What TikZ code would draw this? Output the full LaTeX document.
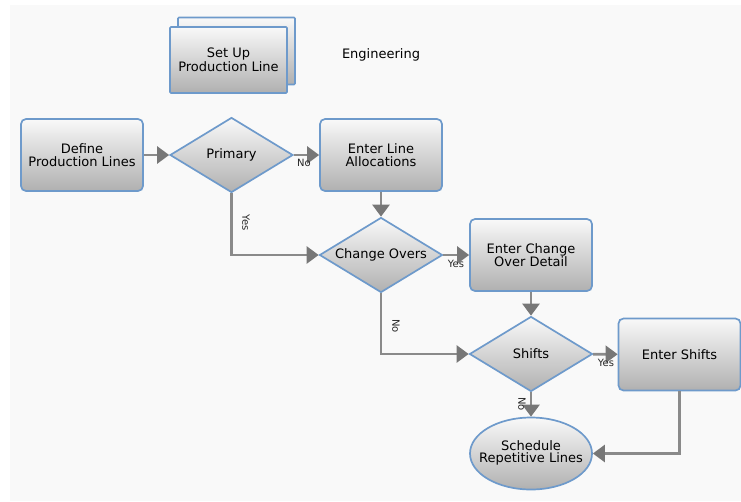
\documentclass[tikz,border=0pt]{standalone}
\usepackage{fontspec}
\setmainfont{DejaVu Sans}
\usetikzlibrary{shapes.geometric,arrows.meta}
\definecolor{bordb}{HTML}{6E9ACB}
\definecolor{linegr}{HTML}{8A8A8A}
\definecolor{tipgr}{HTML}{777777}
\definecolor{panel}{HTML}{F9F9F9}
\tikzset{
  shadefill/.style={top color=white!95!gray, bottom color=gray!62, draw=bordb, line width=1.7pt},
  nfont/.style={font=\fontsize{13}{13.5}\selectfont},
  procbox/.style={shadefill, rectangle, rounded corners=5pt, minimum width=122pt, minimum height=72pt, inner sep=0pt, align=center, nfont},
  decis/.style={shadefill, diamond, minimum width=123pt, minimum height=75pt, inner sep=0pt, align=center, nfont},
  term/.style={shadefill, ellipse, minimum width=122pt, minimum height=72pt, inner sep=0pt, align=center, nfont},
  conn/.style={draw=linegr, line width=2.6pt, -{Triangle[length=12pt,width=17pt,fill=tipgr,color=tipgr]}},
  lbl/.style={font=\fontsize{10}{10}\selectfont, inner sep=0pt, text=black!85},
}
\begin{document}
\begin{tikzpicture}[x=1pt,y=-1pt]
\useasboundingbox (0,0) rectangle (741,501);
\fill[white] (0,0) rectangle (741,501);
\fill[panel] (10,5) rectangle (741,501);

% stacked setup box
\node[procbox, minimum width=117pt, minimum height=67pt, rounded corners=1pt] (setupback) at (236.5,51) {};
\node[procbox, minimum width=117pt, minimum height=66pt, rounded corners=1pt] (setup) at (228.5,60) {Set Up\\Production Line};
\node[nfont] (eng) at (381,55) {Engineering};

\node[procbox] (define) at (82,155) {Define\\Production Lines};
\node[decis] (primary) at (231.5,155) {\makebox[0pt]{Primary}};
\node[procbox] (alloc) at (381,155) {Enter Line\\Allocations};
\node[decis] (change) at (381,255) {\makebox[0pt]{Change Overs}};
\node[procbox] (detail) at (531,255) {Enter Change\\Over Detail};
\node[decis] (shifts) at (531,354) {\makebox[0pt]{Shifts}};
\node[procbox] (entershifts) at (679.5,354.5) {Enter Shifts};
\node[term] (sched) at (531,453.5) {\makebox[0pt]{\begin{tabular}{@{}c@{}}Schedule\\[-2pt]Repetitive Lines\end{tabular}}};

\draw[conn] (define) -- (primary);
\draw[conn] (primary) -- (alloc);
\draw[conn] (alloc) -- (change);
\draw[conn] (primary.south) |- (change.west);
\draw[conn] (change) -- (detail);
\draw[conn] (detail) -- (shifts);
\draw[conn] (change.south) |- (shifts.west);
\draw[conn] (shifts) -- (entershifts);
\draw[conn] (shifts) -- (sched);
\draw[conn] (entershifts.south) |- (sched.east);

\node[lbl] (lno1) at (304,163) {No};
\node[lbl, rotate=-90] (lyes1) at (246,223) {Yes};
\node[lbl] (lyes2) at (456,264) {Yes};
\node[lbl, rotate=-90] (lno2) at (396,326) {No};
\node[lbl] (lyes3) at (606,363) {Yes};
\node[lbl, rotate=-90] (lno3) at (522,404) {No};
\end{tikzpicture}
\end{document}
